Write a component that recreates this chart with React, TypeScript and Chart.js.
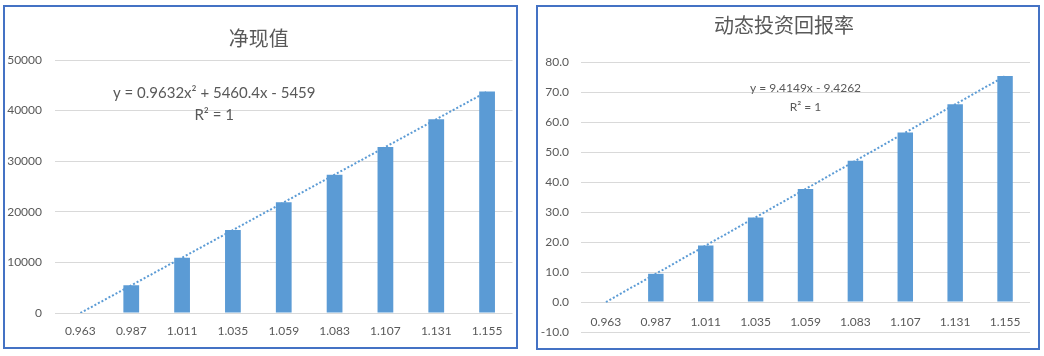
import React, { useEffect, useRef } from "react";
import { Chart, registerables } from "chart.js";

Chart.register(...registerables);

const categories = ["0.963", "0.987", "1.011", "1.035", "1.059", "1.083", "1.107", "1.131", "1.155"];

const npvTitle = "净现值";
const npvValues = [0, 5470, 10930, 16400, 21870, 27340, 32810, 38290, 43760];
const npvTrend = [2, 5466, 10933, 16398, 21867, 27338, 32811, 38286, 43763];
const npvEquation = ["y = 0.9632x² + 5460.4x - 5459", "R² = 1"];
const npvAxis = [0, 50000, 10000];

const roiTitle = "动态投资回报率";
const roiValues = [0, 9.4, 18.8, 28.2, 37.7, 47.1, 56.5, 65.9, 75.3];
const roiTrend = [0, 9.4, 18.82, 28.22, 37.65, 47.06, 56.48, 65.89, 75.31];
const roiEquation = ["y = 9.4149x - 9.4262", "R² = 1"];
const roiAxis = [-10, 80, 10];

const TEXT = "#595959";
const BAR = "#5B9BD5";
const GRID = "#D9D9D9";
const BORDER = "#4472C4";
const FONT = "Lato, 'Noto Sans CJK SC', sans-serif";
const CJK = "'Noto Sans CJK SC', sans-serif";

type Spec = {
  title: string;
  values: number[];
  trend: number[];
  equation: string[];
  axis: number[];
  decimals: number;
  yWidth: number;
  yPad: number;
  titlePad: { top: number; bottom: number };
  layoutPad: { left: number; right: number; top: number; bottom: number };
  xAtZero: boolean;
  xPad: number;
  xHeight: number | null;
  eq: { fx: number; fy: number; size: number; gap: number };
};

function makeEquationPlugin(spec: Spec) {
  return {
    id: "equationLabel",
    afterDatasetsDraw(chart: any) {
      const { ctx, chartArea } = chart;
      ctx.save();
      ctx.fillStyle = TEXT;
      ctx.font = `${spec.eq.size}px ${FONT}`;
      ctx.textAlign = "center";
      ctx.textBaseline = "middle";
      const x = chartArea.left + spec.eq.fx * (chartArea.right - chartArea.left);
      const y = chartArea.top + spec.eq.fy * (chartArea.bottom - chartArea.top);
      spec.equation.forEach((line, i) => ctx.fillText(line, x, y + i * spec.eq.gap));
      ctx.restore();
    },
  };
}

function ChartBox({ spec, box }: { spec: Spec; box: { left: number; top: number; width: number; height: number } }) {
  const ref = useRef<HTMLCanvasElement | null>(null);
  useEffect(() => {
    if (!ref.current) return;
    const chart = new Chart(ref.current, {
      type: "bar",
      data: {
        labels: categories,
        datasets: [
          {
            type: "line",
            data: spec.trend,
            borderColor: BAR,
            borderWidth: 2,
            borderDash: [2, 2],
            pointRadius: 0,
            fill: false,
            tension: 0,
            order: 0,
          } as any,
          {
            type: "bar",
            data: spec.values,
            backgroundColor: BAR,
            barPercentage: 0.31,
            categoryPercentage: 1,
            order: 1,
          },
        ],
      },
      options: {
        animation: false,
        responsive: true,
        maintainAspectRatio: false,
        layout: { padding: spec.layoutPad },
        plugins: {
          legend: { display: false },
          tooltip: { enabled: false },
          title: {
            display: true,
            text: spec.title,
            color: TEXT,
            font: { family: CJK, size: 20, weight: "normal" as any, lineHeight: 1.2 },
            padding: spec.titlePad,
          },
        },
        scales: {
          x: {
            position: spec.xAtZero ? ({ y: 0 } as any) : "bottom",
            grid: { display: false, drawTicks: false },
            border: { display: false },
            afterFit: (s: any) => {
              if (spec.xHeight !== null) s.height = spec.xHeight;
            },
            ticks: { color: TEXT, font: { family: FONT, size: 12 }, padding: spec.xPad, maxRotation: 0, autoSkip: false },
          },
          y: {
            min: spec.axis[0],
            max: spec.axis[1],
            grid: { color: GRID, lineWidth: 1, drawTicks: false },
            border: { display: false },
            afterFit: (s: any) => {
              s.width = spec.yWidth;
              s.paddingBottom = 8;
            },
            ticks: {
              stepSize: spec.axis[2],
              color: TEXT,
              font: { family: FONT, size: 12 },
              padding: spec.yPad,
              callback: (v: any) => Number(v).toFixed(spec.decimals),
            },
          },
        },
      },
      plugins: [makeEquationPlugin(spec)],
    });
    return () => chart.destroy();
  }, []);
  return (
    <div
      style={{
        position: "absolute",
        left: box.left,
        top: box.top,
        width: box.width,
        height: box.height,
        boxSizing: "border-box",
        border: `2px solid ${BORDER}`,
        background: "#fff",
      }}
    >
      <canvas ref={ref} />
    </div>
  );
}

const npvSpec: Spec = {
  title: npvTitle,
  values: npvValues,
  trend: npvTrend,
  equation: npvEquation,
  axis: npvAxis,
  decimals: 0,
  yWidth: 50,
  yPad: 13,
  titlePad: { top: 19, bottom: 10 },
  layoutPad: { left: 0, right: 3.5, top: 0, bottom: 0 },
  xAtZero: false,
  xPad: 11,
  xHeight: 34,
  eq: { fx: 0.348, fy: 0.13, size: 15, gap: 22 },
};

const roiSpec: Spec = {
  title: roiTitle,
  values: roiValues,
  trend: roiTrend,
  equation: roiEquation,
  axis: roiAxis,
  decimals: 1,
  yWidth: 43,
  yPad: 12,
  titlePad: { top: 6, bottom: 25 },
  layoutPad: { left: 0, right: 8, top: 0, bottom: 16 },
  xAtZero: true,
  xPad: 13,
  xHeight: null,
  eq: { fx: 0.5, fy: 0.096, size: 12, gap: 19 },
};

export default function App() {
  return (
    <div style={{ position: "absolute", left: 0, top: 0, width: 1044, height: 356, background: "#fff", overflow: "hidden" }}>
      <ChartBox spec={npvSpec} box={{ left: 3, top: 5, width: 515, height: 344 }} />
      <ChartBox spec={roiSpec} box={{ left: 536, top: 5, width: 504, height: 345 }} />
    </div>
  );
}
